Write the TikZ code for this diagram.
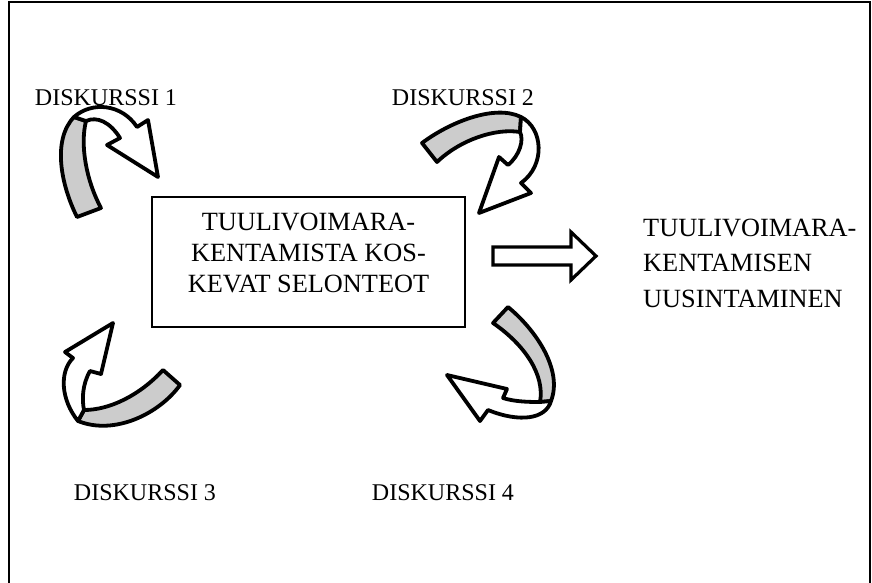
\documentclass[tikz,border=0pt]{standalone}
\usepackage{fontspec}
\setmainfont{Liberation Serif}
\begin{document}
\begin{tikzpicture}[x=1pt,y=-1pt,
  ribbon/.style={draw=black,line width=3.8pt,line join=round},
  backside/.style={ribbon,fill=black!20},
  frontside/.style={ribbon,fill=white},
  lbl/.style={inner sep=0pt,anchor=base,font=\fontsize{24}{28}\selectfont},
  txt/.style={inner sep=0pt,anchor=base,font=\fontsize{26.3}{31}\selectfont}]
\useasboundingbox (0,0) rectangle (872,582);
% outer frame
\draw[line width=2pt] (9,590) -- (9,1.5) -- (869.5,1.5) -- (869.5,590);
% central box
\node[draw,line width=1.3pt,minimum width=313pt,minimum height=130pt,inner sep=0pt] (box) at (308.5,262) {};
\node[txt] (c1) at (308.5,230.5) {TUULIVOIMARA-};
\node[txt] (c2) at (308.5,261.5) {KENTAMISTA KOS-};
\node[txt] (c3) at (308.5,292.5) {KEVAT SELONTEOT};
% right text
\node[txt,anchor=base west] (r1) at (643,236) {TUULIVOIMARA-};
\node[txt,anchor=base west] (r2) at (643,271.5) {KENTAMISEN};
\node[txt,anchor=base west] (r3) at (643,307) {UUSINTAMINEN};
% labels
\node[lbl] (d1) at (106,105) {DISKURSSI 1};
\node[lbl] (d2) at (463,105) {DISKURSSI 2};
\node[lbl] (d3) at (145,500) {DISKURSSI 3};
\node[lbl] (d4) at (443,500) {DISKURSSI 4};
% block arrow
\draw[line width=3.2pt,line join=miter,fill=white] (493,247) -- (571,247) -- (571,232) -- (596,256) -- (571,280) -- (571,265) -- (493,265) -- cycle;
% curved arrow 1
\draw[backside] (77,217) .. controls (61,185) and (52,140) .. (74,117) -- (86,121) .. controls (80,145) and (86,180) .. (101,208) -- cycle;
\draw[frontside] (74,117) .. controls (92,101) and (122,104) .. (137,127) -- (148,120) -- (158,177) -- (107,145) -- (120,138) .. controls (110,122) and (97,116) .. (86,121) -- cycle;
% curved arrow 2
\draw[backside] (422,143) .. controls (450,122) and (495,104) .. (521,117) -- (520,132) .. controls (495,128) and (460,140) .. (437,162) -- cycle;
\draw[frontside] (521,117) .. controls (543,128) and (546,165) .. (521,183) -- (531,193) -- (479,213) -- (499,157) -- (508,165) .. controls (520,155) and (524,140) .. (520,132) -- cycle;
% curved arrow 3
\draw[backside] (163,370) -- (180,385) .. controls (160,413) and (115,436) .. (78,421) -- (84,410) .. controls (110,410) and (140,395) .. (163,370) -- cycle;
\draw[frontside] (78,421) .. controls (61,400) and (59,372) .. (73,358) -- (65,352) -- (113,323) -- (101,374) -- (90,371) .. controls (82,385) and (82,400) .. (84,410) -- cycle;
% curved arrow 4
\draw[backside] (508,307) .. controls (536,330) and (563,370) .. (551,401) -- (540,402) .. controls (545,375) and (525,345) .. (493,323) -- cycle;
\draw[frontside] (551,401) .. controls (546,419) and (520,423) .. (488,410) -- (480,421) -- (447,375) -- (507,389) -- (503,398) .. controls (515,402) and (532,402) .. (540,402) -- cycle;
\end{tikzpicture}
\end{document}
